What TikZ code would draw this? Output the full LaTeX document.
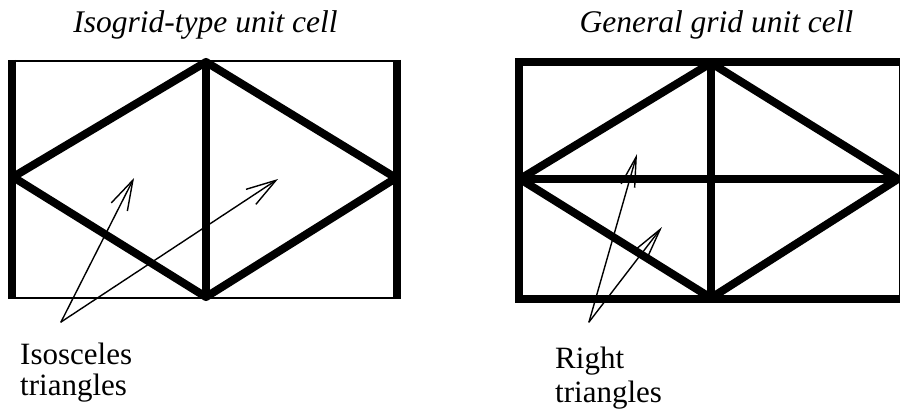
\documentclass[tikz,border=0pt]{standalone}
\usepackage{fontspec}
\setmainfont{Liberation Serif}
\usetikzlibrary{arrows.meta}
\begin{document}
\begin{tikzpicture}[x=1pt,y=-1pt,
  thickbar/.style={line width=8pt},
  thinbar/.style={line width=2pt},
  pointer/.style={line width=1.4pt,line cap=round,
    -{Straight Barb[length=30pt,width=18pt,line width=1.4pt]}},
  titletext/.style={anchor=base,inner sep=0pt,font=\fontsize{31.5}{37}\selectfont\itshape},
  labeltext/.style={anchor=north west,inner sep=0pt,align=left}
]
\useasboundingbox (0,0) rectangle (900,412);

% titles
\node[titletext] (t1) at (205.5,33) {Isogrid-type unit cell};
\node[titletext] (t2) at (716.5,33) {General grid unit cell};

% left (isogrid) cell
\draw[thinbar] (12,61) -- (397,61);
\draw[thinbar] (12,298) -- (397,298);
\draw[thickbar] (12,60) -- (12,299);
\draw[thickbar] (206,60) -- (206,299);
\draw[thickbar] (397,60) -- (397,299);
\draw[thickbar,line join=round] (13,177) -- (206,62) -- (396,178) -- (206,297) -- cycle;

% right (general grid) cell
\draw[thickbar] (519,62) rectangle (903,299);
\draw[thickbar] (519,179) -- (898,179);
\draw[thickbar] (711,62) -- (711,299);
\draw[thickbar,line join=round] (520,179) -- (711,63) -- (898,179) -- (711,298) -- cycle;

% labels and pointers
\node[labeltext,font=\fontsize{31}{31}\selectfont] (iso) at (20,342.5) {Isosceles\\triangles};
\node[labeltext,font=\fontsize{31}{34}\selectfont] (rt) at (555,346.5) {Right\\triangles};

\coordinate (ltail) at (61,322);
\coordinate (lh1) at (134,178);
\coordinate (lh2) at (278,179);
\draw[pointer] (ltail) -- (lh1);
\draw[pointer] (ltail) -- (lh2);

\coordinate (rtail) at (589,322);
\coordinate (rh1) at (637,154);
\coordinate (rh2) at (662,227);
\draw[pointer,-{Straight Barb[length=30pt,width=14pt,line width=1.4pt]}] (rtail) -- (rh1);
\draw[pointer,-{Straight Barb[length=30pt,width=14pt,line width=1.4pt]}] (rtail) -- (rh2);
\end{tikzpicture}
\end{document}
